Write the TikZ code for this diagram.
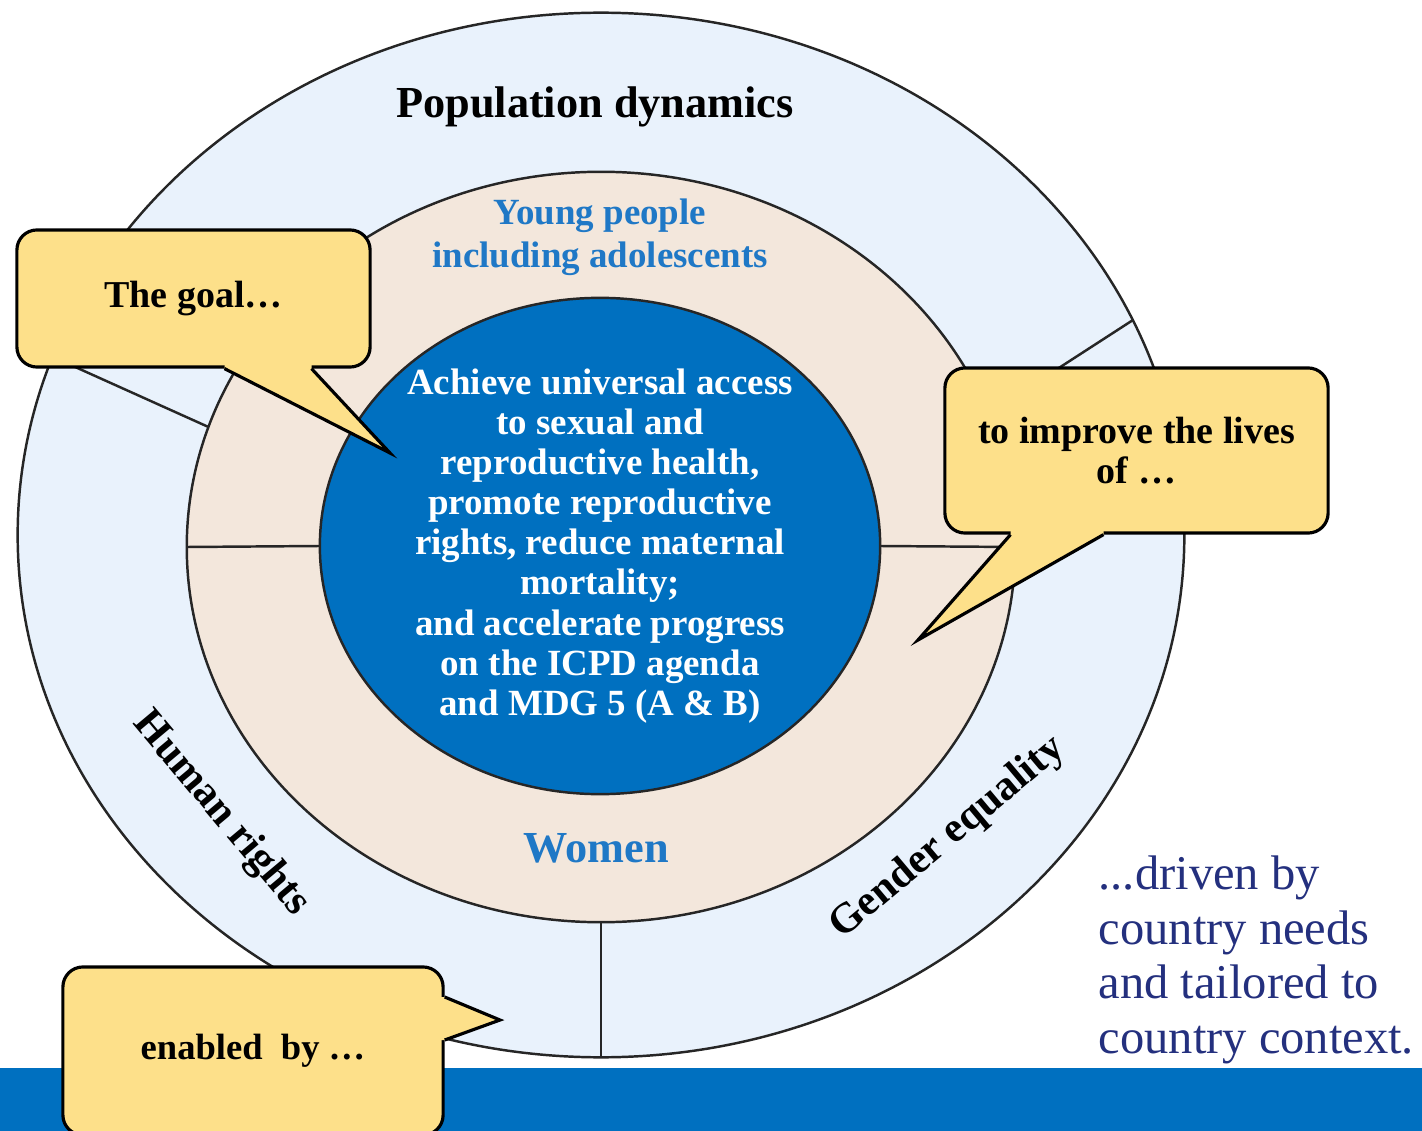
\documentclass[tikz,border=0pt]{standalone}
\usepackage{fontspec}
\setmainfont{Liberation Serif}
\usetikzlibrary{shapes.geometric,calc}
\definecolor{ringblue}{HTML}{E9F2FC}
\definecolor{ringsand}{HTML}{F3E7DC}
\definecolor{unblue}{HTML}{0070C0}
\definecolor{labelblue}{HTML}{1F78C6}
\definecolor{callyellow}{HTML}{FDE08A}
\definecolor{navytext}{HTML}{24307E}
\tikzset{
  ring/.style={ellipse, draw=black!85, line width=0.7pt, inner sep=0pt, outer sep=0pt},
  divline/.style={draw=black!85, line width=0.7pt},
  callbox/.style={draw, line width=0.9pt, fill=callyellow, rounded corners=0.2cm,
    align=center, font=\bfseries\fontsize{10.8}{11.6}\selectfont},
  ringlabel/.style={font=\bfseries\fontsize{12.6}{15}\selectfont},
}
\newcommand{\calltail}[4]{%
  \fill[callyellow] ($(#1)+(#4)$) -- (#1) -- (#2) -- (#3) -- ($(#3)+(#4)$) -- cycle;
  \draw[line width=0.9pt] (#1) -- (#2) -- (#3);}
\begin{document}
\begin{tikzpicture}[x=0.01cm,y=-0.01cm]
\useasboundingbox (0,0) rectangle (1422,1131);

\node[ring, fill=ringblue, minimum width=11.66cm, minimum height=10.44cm] (outer) at (601,535) {};
\node[ring, fill=ringsand, minimum width=8.28cm, minimum height=7.5cm] (mid) at (601,547) {};
\node[ring, fill=unblue, minimum width=5.6cm, minimum height=4.96cm] (inner) at (600,546) {};

\draw[divline] (mid.west) -- (inner.west);
\draw[divline] (inner.east) -- (mid.east);
\draw[divline] (mid.south) -- (outer.south);
\draw[divline] (outer.162) -- (mid.163);
\draw[divline] (outer.22) -- (mid.19);

\node[ringlabel] (popdyn) at (595,107) {Population dynamics};
\node[ringlabel, font=\bfseries\fontsize{12}{15}\selectfont, rotate=-50] (hr) at (221,814) {Human rights};
\node[ringlabel, font=\bfseries\fontsize{12}{15}\selectfont, rotate=40] (ge) at (948,838) {Gender equality};
\node[align=center, text=labelblue, font=\bfseries\fontsize{10.5}{12.2}\selectfont] (young) at (600,237)
  {Young people\\including adolescents};
\node[ringlabel, text=labelblue] (women) at (596,848) {Women};
\node[align=center, text=white, font=\bfseries\fontsize{10.5}{11.4}\selectfont] (aim) at (inner)
  {Achieve universal access\\to sexual and\\reproductive health,\\promote reproductive\\rights, reduce maternal\\mortality;\\and accelerate progress\\on the ICPD agenda\\and MDG 5 (A \& B)};

\node[anchor=west, inner sep=0pt, align=left, text=navytext, font=\fontsize{13.8}{15.5}\selectfont] (driven) at (1098,960)
  {...driven by\\country needs\\and tailored to\\country context.};

\fill[unblue] (0,1068) rectangle (1422,1131);

% callouts
\node[callbox, minimum width=3.53cm, minimum height=1.37cm] (goal) at (193.5,298.5) {The goal\ldots};
\coordinate (goaltip) at (390,453);
\coordinate (goalb1) at ($(goal.south)+(31,0)$);
\coordinate (goalb2) at ($(goal.south)+(118,0)$);
\calltail{goalb1}{goaltip}{goalb2}{0,-5}

\node[callbox, minimum width=3.83cm, minimum height=1.65cm] (lives) at (1136.5,450.5) {to improve the lives\\of \ldots};
\coordinate (livestip) at (918,640);
\coordinate (livesb1) at ($(lives.south)+(-126,0)$);
\coordinate (livesb2) at ($(lives.south)+(-33,0)$);
\calltail{livesb1}{livestip}{livesb2}{0,-5}

\node[callbox, font=\bfseries\fontsize{10.4}{11.6}\selectfont, minimum width=3.8cm, minimum height=1.68cm] (enabled) at (253,1051) {enabled~ by \ldots};
\coordinate (enabledtip) at (500,1020);
\coordinate (enabledb1) at ($(enabled.east)+(0,-54)$);
\coordinate (enabledb2) at ($(enabled.east)+(0,-11)$);
\calltail{enabledb1}{enabledtip}{enabledb2}{-5,0}
\end{tikzpicture}
\end{document}
